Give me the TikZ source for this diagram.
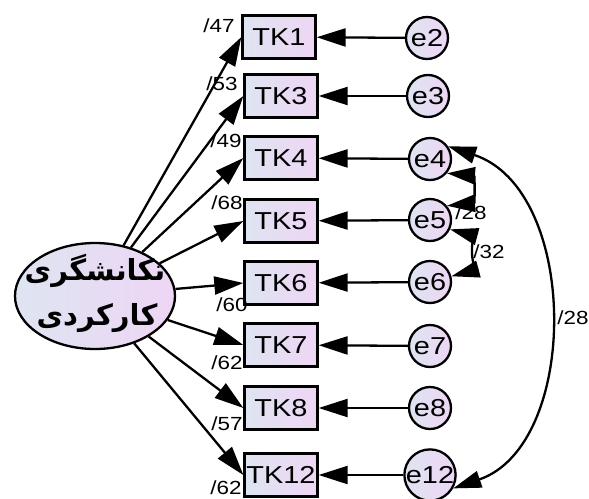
\documentclass[tikz,border=0pt]{standalone}
\usepackage{fontspec}
\setmainfont{Liberation Sans}
\newfontfamily\widefont[FakeStretch=1.18]{Liberation Sans}
\newfontfamily\arabicfont[Script=Arabic]{DejaVu Sans}
\TeXXeTstate=1
\usetikzlibrary{arrows.meta,shapes.geometric}
\definecolor{fillA}{RGB}{222,228,242}
\definecolor{fillB}{RGB}{238,214,244}
\tikzset{
  obs/.style={draw, line width=2.3pt, minimum width=73pt, minimum height=43pt, inner sep=0pt,
    left color=fillA, right color=fillB, font=\widefont\fontsize{24.5}{24.5}\selectfont},
  err/.style={draw, circle, line width=2.3pt, minimum size=42pt, inner sep=0pt,
    left color=fillA, right color=fillB, font=\widefont\fontsize{24.5}{24.5}\selectfont},
  lat/.style={draw, ellipse, line width=2.3pt, minimum width=160pt, minimum height=106pt, inner sep=0pt,
    left color=fillA, right color=fillB},
  path/.style={line width=2.3pt, -{Triangle[length=29pt,width=18pt]}},
  cov/.style={line width=2.3pt, {Triangle[length=28pt,width=17pt]}-{Triangle[length=28pt,width=17pt]}},
  lbl/.style={font=\widefont\fontsize{19}{19}\selectfont, inner sep=0pt}
}
\begin{document}
\begin{tikzpicture}[x=1pt,y=-1pt]
\useasboundingbox (0,0) rectangle (589,498);
\node[lat] (F) at (95,296) {};
\node[font=\arabicfont\bfseries\fontsize{29}{29}\selectfont] (t1) at (95,271) {\beginR تکانشگری\endR};
\node[font=\arabicfont\bfseries\fontsize{29}{29}\selectfont] (t2) at (97,318) {\beginR کارکردی\endR};

\node[obs] (TK1) at (279,37) {TK1};
\node[obs] (TK3) at (281,96) {TK3};
\node[obs] (TK4) at (281,158) {TK4};
\node[obs] (TK5) at (281,221) {TK5};
\node[obs] (TK6) at (281,283) {TK6};
\node[obs] (TK7) at (281,345) {TK7};
\node[obs] (TK8) at (281,408) {TK8};
\node[obs] (TK12) at (281,475) {TK12};

\node[err] (e2) at (427,38) {e2};
\node[err] (e3) at (428,96) {e3};
\node[err] (e4) at (430,159) {e4};
\node[err] (e5) at (430,220) {e5};
\node[err] (e6) at (430,282) {e6};
\node[err] (e7) at (430,346) {e7};
\node[err] (e8) at (430,408) {e8};
\node[err] (e12) at (430,475) {e12};

\foreach \t in {TK1,TK3,TK4,TK5,TK6,TK7,TK8,TK12}{\draw[path] (F) -- (\t.west);}
\foreach \e/\t in {e2/TK1,e3/TK3,e4/TK4,e5/TK5,e6/TK6,e7/TK7,e8/TK8,e12/TK12}{\draw[path] (\e) -- (\t);}

\draw[cov] (e4.-40) to[out=-5,in=5,looseness=2.2] (e5.40);
\draw[cov] (e5.-25) to[out=-15,in=15,looseness=1.1] (e6.15);
\draw[cov] (e4.35) .. controls (580,190) and (580,445) .. (e12.-30);

\node[lbl] (l1) at (219,26) {/47};
\node[lbl] (l3) at (222,84) {/53};
\node[lbl] (l4) at (226,141) {/49};
\node[lbl] (l5) at (227,203) {/68};
\node[lbl] (l6) at (232,305) {/60};
\node[lbl] (l7) at (227,363) {/62};
\node[lbl] (l8) at (227,424) {/57};
\node[lbl] (l12) at (226,488) {/62};
\node[lbl] (c45) at (471,213) {/28};
\node[lbl] (c56) at (489,252) {/32};
\node[lbl] (c412) at (573,318) {/28};
\end{tikzpicture}
\end{document}
